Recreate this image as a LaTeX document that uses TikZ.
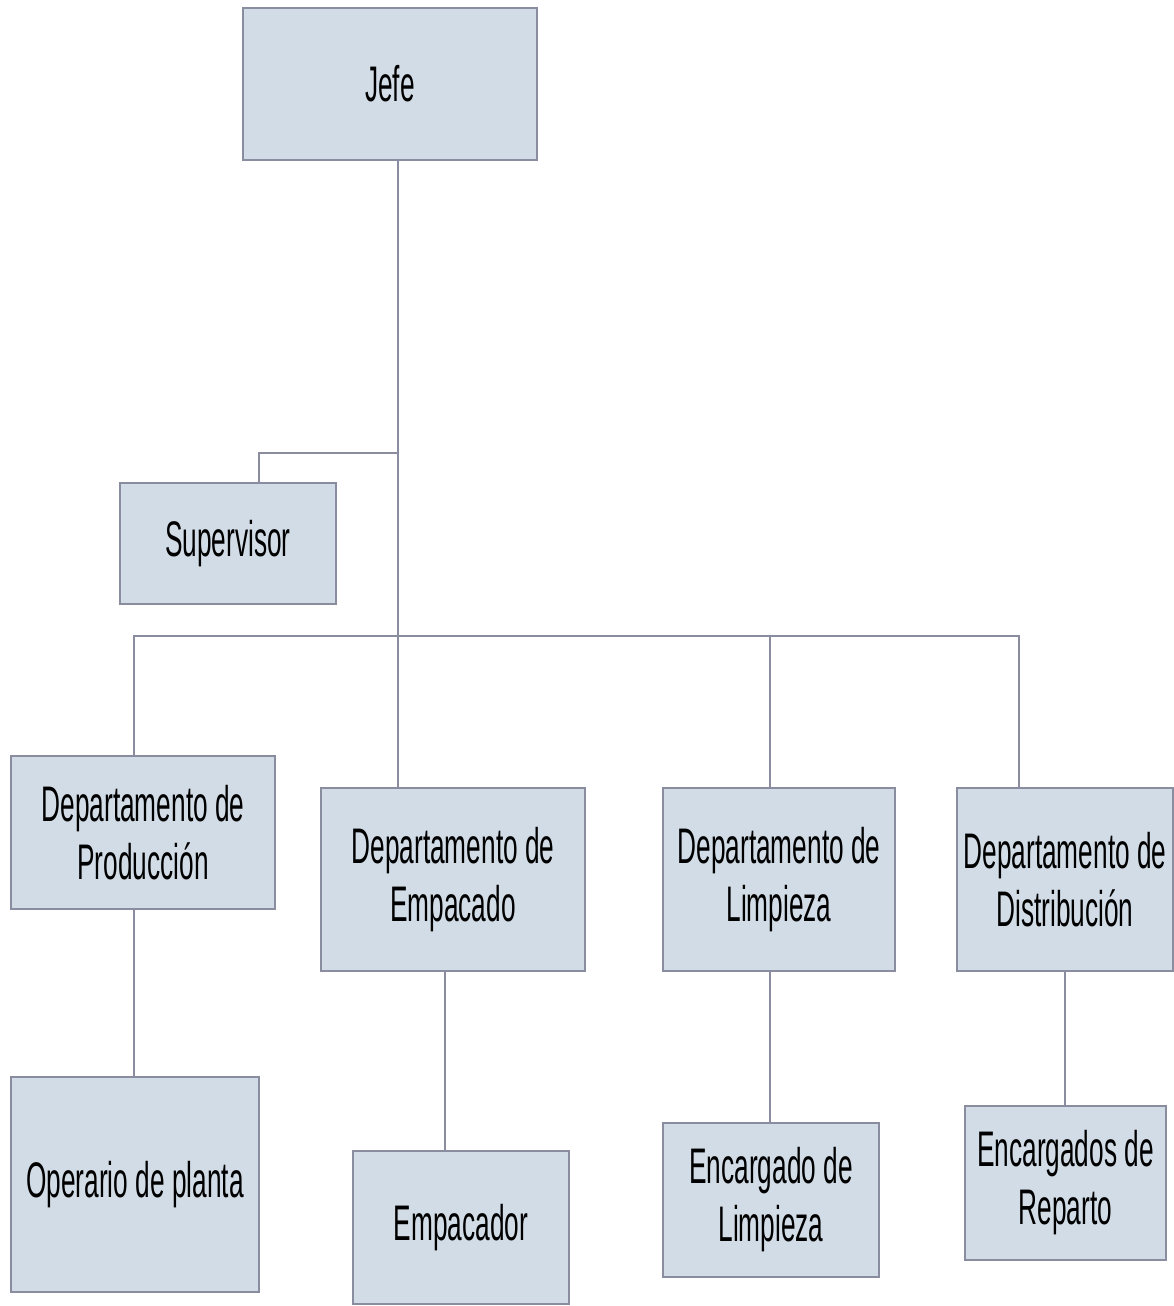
\documentclass[tikz,border=0pt]{standalone}
\usepackage{fontspec}
\setmainfont{Liberation Sans}[FakeStretch=0.525]
\usetikzlibrary{positioning}
\definecolor{boxfill}{HTML}{D1DCE6}
\definecolor{boxline}{HTML}{8A8DA0}
\tikzset{
  unit/.style={draw=boxline, fill=boxfill, line width=1.2pt, align=center,
    inner sep=0pt, font=\fontsize{25}{29}\selectfont}, % every box of the chart
  link/.style={draw=boxline, line width=1pt}, % lines between boxes
}

\begin{document}
\begin{tikzpicture}[x=0.5pt,y=-0.5pt]
  \useasboundingbox (0,0) rectangle (1173,1306);
  % top of the chart
  \node[unit, minimum width=147pt, minimum height=76pt] (jefe) at (390,84) {Jefe};
  \node[unit, minimum width=108pt, minimum height=60.5pt] (supervisor) at (228,543.5) {Supervisor};
  % departments
  \node[unit, minimum width=132pt, minimum height=76.5pt] (produccion) at (143,832.5) {Departamento de\\Producción};
  \node[unit, minimum width=132pt, minimum height=91.5pt] (empacado) at (453,879.5) {Departamento de\\Empacado};
  \node[unit, minimum width=116pt, minimum height=91.5pt] (limpieza) at (779,879.5) {Departamento de\\Limpieza};
  \node[unit, minimum width=108pt, minimum height=91.5pt] (distribucion) at (1065,879.5) {Departamento de\\Distribución};
  % staff
  \node[unit, minimum width=124pt, minimum height=107.5pt] (operario) at (135,1184.5) {Operario de planta};
  \node[unit, minimum width=108pt, minimum height=76.5pt] (empacador) at (461,1227.5) {Empacador};
  \node[unit, minimum width=108pt, minimum height=77pt] (encargado) at (771,1200) {Encargado de\\Limpieza};
  \node[unit, minimum width=100.5pt, minimum height=77pt] (reparto) at (1065.5,1183) {Encargados de\\Reparto};

  \coordinate (sup) at (398,453);
  \coordinate (bus) at (600,636);

  \draw[link] ([xshift=4pt]jefe.south) -- ([xshift=-27.5pt]empacado.north);
  \draw[link] ([xshift=15.5pt]supervisor.north) |- (sup);
  \draw[link] ([xshift=-4.5pt]produccion.north) |- (bus) -| ([xshift=-23pt]distribucion.north);
  \draw[link] ([xshift=-4.5pt]limpieza.north) -- ([xshift=-4.5pt]limpieza.north |- bus);

  \draw[link] ([xshift=-4.5pt]produccion.south) -- ([xshift=-4.5pt]produccion.south |- operario.north);
  \draw[link] ([xshift=-4pt]empacado.south) -- ([xshift=-4pt]empacado.south |- empacador.north);
  \draw[link] ([xshift=-4.5pt]limpieza.south) -- ([xshift=-4.5pt]limpieza.south |- encargado.north);
  \draw[link] (distribucion.south) -- (distribucion.south |- reparto.north);
\end{tikzpicture}
\end{document}
